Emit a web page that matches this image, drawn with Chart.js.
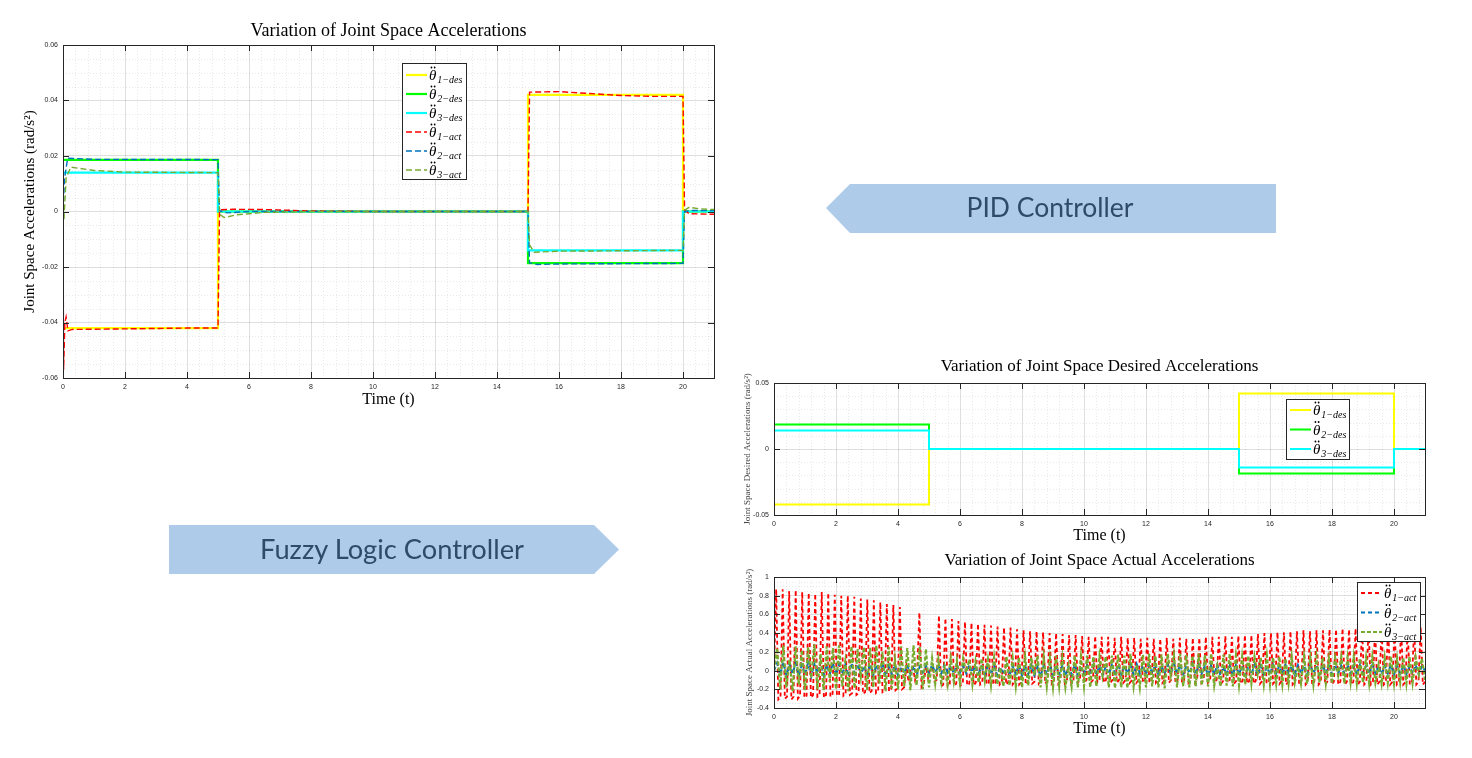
<!DOCTYPE html>
<html>
<head>
<meta charset="utf-8">
<title>Joint Space Accelerations</title>
<script src="https://cdn.jsdelivr.net/npm/chart.js@4.4.1/dist/chart.umd.min.js"></script>
<style>
	html, body { margin: 0; padding: 0; background: #fff; }
	#page { position: relative; width: 1472px; height: 758px; overflow: hidden; }
	.box { position: absolute; }
	svg { position: absolute; left: 0; top: 0; pointer-events: none; }
</style>
</head>
<body>
<div id="page">
	<div class="box" style="left:0;top:0;width:730px;height:420px"><canvas id="fuzzyChart"></canvas></div>
	<div class="box" style="left:720px;top:348px;width:752px;height:198px"><canvas id="desiredChart"></canvas></div>
	<div class="box" style="left:720px;top:546px;width:752px;height:212px"><canvas id="actualChart"></canvas></div>

	<svg width="1472" height="758">
		<polygon points="826,208 850,184 1276,184 1276,233 850,233" fill="#aecbe9"/>
		<text x="1050" y="216.5" text-anchor="middle" font-family="Lato, 'Open Sans', sans-serif" font-size="27" fill="#2f4b6a" textLength="167" lengthAdjust="spacingAndGlyphs">PID Controller</text>
		<polygon points="169,525 594,525 619,549.5 594,574 169,574" fill="#aecbe9"/>
		<text x="392" y="559" text-anchor="middle" font-family="Lato, 'Open Sans', sans-serif" font-size="27" fill="#2f4b6a" textLength="264" lengthAdjust="spacingAndGlyphs">Fuzzy Logic Controller</text>
	</svg>
</div>

<script>
// desired joint accelerations (step profile, same for both controllers)
const desTime   = [0, 5, 5, 15, 15, 20, 20, 21];
const theta1Des = [-0.042, -0.042, 0, 0, 0.042, 0.042, 0, 0];
const theta2Des = [0.0186, 0.0186, 0, 0, -0.0186, -0.0186, 0, 0];
const theta3Des = [0.014, 0.014, 0, 0, -0.014, -0.014, 0, 0];

// fuzzy controller, actual accelerations
const fz1Time = [0, 0.02, 0.06, 0.1, 0.16, 0.3, 2, 4, 5, 5.05, 5.5, 6.5, 8, 10, 15, 15.05, 16, 17, 18, 19, 20, 20.05, 20.2, 21];
const fz1Act  = [0, -0.057, -0.04, -0.038, -0.043, -0.0425, -0.0423, -0.042, -0.042, 0.0006, 0.0008, 0.0007, 0.0002, 0, 0, 0.043, 0.0432, 0.0425, 0.0418, 0.0415, 0.0415, 0.0005, -0.0008, -0.001];
const fz2Time = [0, 0.05, 0.15, 1, 5, 5.05, 5.3, 6, 15, 15.05, 15.3, 16, 20, 20.05, 20.3, 21];
const fz2Act  = [0, 0.012, 0.0192, 0.0188, 0.0187, 0.0003, -0.0005, 0, 0, -0.0185, -0.0191, -0.0189, -0.0187, 0, 0.0004, 0.0003];
const fz3Time = [0, 0.03, 0.1, 0.25, 1, 2, 5, 5.05, 5.2, 5.6, 6.5, 8, 15, 15.05, 15.2, 16, 20, 20.05, 20.2, 20.5, 21];
const fz3Act  = [0, -0.003, 0.012, 0.016, 0.0148, 0.0142, 0.014, -0.001, -0.0022, -0.0012, -0.0003, 0, 0, -0.012, -0.0147, -0.0143, -0.014, 0.0005, 0.0015, 0.001, 0.0007];

// PID controller, actual accelerations
// joint 1 sampled every 0.07 s, joints 2 and 3 every 0.1 s (0 .. 21 s)
const pid1Step = 0.07;
const pid1Act = [
	0.00,
	0.87, -0.31, -0.29, 0.87, -0.30, -0.28, 0.85, -0.31, -0.28, 0.86, -0.30, -0.27, 0.84, -0.29, -0.27, 0.83, -0.29, -0.26, 0.82, -0.28, -0.26, 0.84, -0.29, -0.26, 0.83, -0.28, -0.25, 0.81, -0.27, -0.25,
	0.80, -0.27, -0.25, 0.80, -0.26, -0.24, 0.79, -0.26, -0.24, 0.77, -0.25, -0.23, 0.76, -0.24, -0.22, 0.75, -0.24, -0.22, 0.73, -0.23, -0.21, 0.71, -0.22, -0.20, 0.70, -0.21, -0.19, 0.68, -0.20, -0.18,
	0.05, -0.12, 0.02, 0.04, -0.10, 0.01, 0.62, -0.18, -0.15, 0.05, -0.08, 0.02, 0.03, -0.12, -0.10, 0.59, -0.17, -0.15, 0.56, -0.17, -0.15, 0.55, -0.16, -0.14, 0.53, -0.16, -0.14, 0.52, -0.16, -0.14,
	0.51, -0.16, -0.13, 0.50, -0.15, -0.13, 0.49, -0.15, -0.13, 0.48, -0.15, -0.13, 0.47, -0.15, -0.12, 0.46, -0.15, -0.12, 0.46, -0.15, -0.12, 0.44, -0.15, -0.12, 0.43, -0.15, -0.12, 0.42, -0.14, -0.12,
	0.42, -0.14, -0.11, 0.41, -0.14, -0.11, 0.40, -0.14, -0.11, 0.40, -0.14, -0.11, 0.39, -0.14, -0.11, 0.38, -0.14, -0.11, 0.38, -0.13, -0.10, 0.37, -0.13, -0.10, 0.36, -0.13, -0.10, 0.37, -0.13, -0.10,
	0.36, -0.13, -0.10, 0.36, -0.13, -0.10, 0.35, -0.13, -0.10, 0.36, -0.13, -0.10, 0.35, -0.13, -0.10, 0.35, -0.13, -0.10, 0.34, -0.13, -0.10, 0.35, -0.13, -0.10, 0.34, -0.13, -0.10, 0.34, -0.13, -0.10,
	0.35, -0.13, -0.10, 0.34, -0.13, -0.10, 0.35, -0.13, -0.10, 0.34, -0.13, -0.10, 0.35, -0.13, -0.10, 0.35, -0.13, -0.10, 0.36, -0.13, -0.10, 0.36, -0.13, -0.10, 0.36, -0.14, -0.11, 0.37, -0.13, -0.10,
	0.36, -0.14, -0.11, 0.37, -0.14, -0.11, 0.38, -0.14, -0.11, 0.38, -0.14, -0.11, 0.39, -0.14, -0.11, 0.40, -0.14, -0.11, 0.40, -0.14, -0.11, 0.41, -0.14, -0.11, 0.41, -0.15, -0.12, 0.42, -0.15, -0.12,
	0.42, -0.15, -0.12, 0.43, -0.15, -0.12, 0.42, -0.15, -0.12, 0.43, -0.15, -0.12, 0.43, -0.15, -0.12, 0.44, -0.15, -0.12, 0.44, -0.15, -0.12, 0.45, -0.15, -0.12, 0.44, -0.15, -0.12, 0.45, -0.15, -0.12,
	0.46, -0.15, -0.12, 0.45, -0.15, -0.12, 0.46, -0.15, -0.12, 0.46, -0.15, -0.12, 0.47, -0.15, -0.12, 0.46, -0.15, -0.12, 0.47, -0.15, -0.12, 0.46, -0.15, -0.12, 0.47, -0.15, -0.12, 0.47, -0.15, -0.12
];
const pidStep = 0.1;
const pid2Act = [
	0.00, 0.08, -0.04, 0.09, -0.05, 0.07, -0.03, 0.08, -0.05, 0.06,
	-0.04, 0.08, -0.06, 0.07, -0.03, 0.09, -0.05, 0.06, -0.04, 0.08,
	-0.05, 0.07, -0.04, 0.06, -0.06, 0.08, -0.03, 0.07, -0.05, 0.05,
	-0.04, 0.07, -0.05, 0.06, -0.03, 0.08, -0.06, 0.05, -0.04, 0.06,
	-0.05, 0.04, -0.03, 0.06, -0.04, 0.05, -0.05, 0.04, -0.02, 0.05,
	-0.03, 0.06, -0.02, 0.05, -0.03, 0.06, -0.02, 0.05, -0.03, 0.06,
	-0.02, 0.05, -0.03, 0.06, -0.02, 0.05, -0.03, 0.04, -0.04, 0.05,
	-0.04, 0.05, -0.05, 0.04, -0.04, 0.06, -0.05, 0.05, -0.04, 0.06,
	-0.05, 0.05, -0.04, 0.06, -0.05, 0.04, -0.06, 0.05, -0.04, 0.05,
	-0.05, 0.06, -0.04, 0.05, -0.05, 0.04, -0.04, 0.06, -0.05, 0.05,
	-0.04, 0.05, -0.05, 0.06, -0.04, 0.05, -0.05, 0.04, -0.04, 0.06,
	-0.03, 0.07, -0.04, 0.05, -0.03, 0.06, -0.04, 0.07, -0.03, 0.05,
	-0.04, 0.06, -0.03, 0.07, -0.04, 0.05, -0.03, 0.06, -0.04, 0.07,
	-0.03, 0.06, -0.04, 0.05, -0.03, 0.07, -0.04, 0.06, -0.03, 0.05,
	-0.05, 0.05, -0.04, 0.06, -0.05, 0.04, -0.04, 0.05, -0.05, 0.06,
	-0.04, 0.05, -0.05, 0.04, -0.04, 0.06, -0.05, 0.05, -0.04, 0.04,
	-0.04, 0.06, -0.03, 0.05, -0.04, 0.06, -0.03, 0.05, -0.04, 0.06,
	-0.03, 0.05, -0.04, 0.06, -0.03, 0.05, -0.04, 0.06, -0.03, 0.05,
	-0.04, 0.06, -0.03, 0.05, -0.04, 0.06, -0.03, 0.05, -0.04, 0.06,
	-0.03, 0.05, -0.04, 0.06, -0.03, 0.05, -0.04, 0.05, -0.03, 0.06,
	-0.04, 0.05, -0.03, 0.06, -0.04, 0.05, -0.03, 0.06, -0.04, 0.05,
	0.00
];
const pid3Act = [
	0.00, 0.24, -0.20, 0.27, -0.18, 0.12, -0.22, 0.26, -0.15, 0.22,
	-0.21, 0.25, -0.08, 0.28, -0.20, 0.18, -0.21, 0.26, -0.12, 0.24,
	-0.20, 0.27, -0.17, 0.10, -0.22, 0.26, -0.19, 0.23, -0.06, 0.25,
	-0.21, 0.24, -0.18, 0.27, -0.14, 0.20, -0.22, 0.25, -0.19, 0.12,
	-0.20, 0.26, -0.17, 0.24, -0.21, 0.27, -0.16, 0.25, -0.20, 0.23,
	-0.18, 0.13, -0.14, 0.12, -0.13, 0.04, -0.15, 0.13, -0.12, 0.11,
	-0.14, 0.13, -0.02, 0.12, -0.15, 0.10, -0.13, 0.13, -0.11, 0.12,
	-0.16, 0.14, -0.15, 0.03, -0.17, 0.15, -0.16, 0.13, -0.17, 0.14,
	-0.18, 0.15, -0.16, 0.14, -0.05, 0.16, -0.18, 0.15, -0.17, 0.13,
	-0.18, 0.16, -0.17, 0.14, -0.18, 0.05, -0.17, 0.16, -0.18, 0.15,
	-0.17, 0.16, -0.18, 0.15, -0.17, 0.16, -0.06, 0.15, -0.18, 0.16,
	-0.19, 0.17, -0.18, 0.16, -0.19, 0.18, -0.17, 0.06, -0.18, 0.17,
	-0.18, 0.18, -0.17, 0.16, -0.18, 0.17, -0.19, 0.18, -0.05, 0.17,
	-0.18, 0.18, -0.17, 0.17, -0.18, 0.16, -0.17, 0.18, -0.16, 0.17,
	-0.17, 0.18, -0.16, 0.05, -0.17, 0.17, -0.16, 0.18, -0.17, 0.16,
	-0.16, 0.15, -0.15, 0.16, -0.14, 0.15, -0.04, 0.14, -0.15, 0.16,
	-0.15, 0.14, -0.14, 0.15, -0.15, 0.13, -0.14, 0.15, -0.13, 0.04,
	-0.14, 0.15, -0.14, 0.14, -0.15, 0.15, -0.13, 0.14, -0.14, 0.13,
	-0.14, 0.14, -0.05, 0.15, -0.14, 0.14, -0.13, 0.15, -0.14, 0.13,
	-0.13, 0.14, -0.14, 0.15, -0.13, 0.06, -0.14, 0.14, -0.13, 0.15,
	-0.14, 0.13, -0.13, 0.14, -0.14, 0.15, -0.13, 0.14, -0.04, 0.13,
	-0.10
];

// tick labels
const timeTicks = [0, 2, 4, 6, 8, 10, 12, 14, 16, 18, 20];
const fuzzyTicks = [-0.06, -0.04, -0.02, 0, 0.02, 0.04, 0.06];
const desiredTicks = [-0.05, 0, 0.05];
const actualTicks = [-0.4, -0.2, 0, 0.2, 0.4, 0.6, 0.8, 1];

// colours (matlab defaults)
const yellow = '#ffff00';
const green = '#00ff00';
const cyan = '#00ffff';
const red = '#ff0000';
const blue = '#0072bd';
const olive = '#77ac30';

const FONT_SERIF = '"Liberation Serif", "Times New Roman", serif';
const FONT_SANS = '"Liberation Sans", Arial, sans-serif';
const AXIS_COLOR = '#262626';
const GRID_COLOR = 'rgba(38,38,38,0.15)';
const MINOR_COLOR = 'rgba(38,38,38,0.10)';

function pts(xs, ys) {
	return xs.map((x, i) => ({ x: x, y: ys[i] }));
}

function sampled(vals, step) {
	return vals.map((v, i) => ({ x: +(i * step).toFixed(2), y: v }));
}

// dotted minor grid (matlab "grid minor")
const minorGrid = {
	id: 'minorGrid',
	beforeDatasetsDraw(chart, args, o) {
		const { ctx, chartArea: a, scales: { x, y } } = chart;
		ctx.save();
		ctx.strokeStyle = MINOR_COLOR;
		ctx.lineWidth = 1;
		ctx.setLineDash([1, 2]);
		ctx.beginPath();
		let n = Math.round((x.max - x.min) / o.x);
		for (let i = 1; i < n; i++) {
			const v = x.min + i * o.x;
			if (x.ticks.some(t => Math.abs(t.value - v) < o.x / 10)) continue;
			const px = Math.round(x.getPixelForValue(v)) + 0.5;
			ctx.moveTo(px, a.top);
			ctx.lineTo(px, a.bottom);
		}
		n = Math.round((y.max - y.min) / o.y);
		for (let i = 1; i < n; i++) {
			const v = y.min + i * o.y;
			if (y.ticks.some(t => Math.abs(t.value - v) < o.y / 10)) continue;
			const py = Math.round(y.getPixelForValue(v)) + 0.5;
			ctx.moveTo(a.left, py);
			ctx.lineTo(a.right, py);
		}
		ctx.stroke();
		ctx.restore();
	}
};

// box with inward ticks on all four sides
const matlabBox = {
	id: 'matlabBox',
	afterDatasetsDraw(chart, args, o) {
		const { ctx, chartArea: a, scales: { x, y } } = chart;
		const len = o.len || 6;
		ctx.save();
		ctx.strokeStyle = AXIS_COLOR;
		ctx.lineWidth = 1;
		ctx.beginPath();
		x.ticks.forEach(t => {
			const px = Math.round(x.getPixelForValue(t.value)) + 0.5;
			ctx.moveTo(px, a.bottom); ctx.lineTo(px, a.bottom - len);
			ctx.moveTo(px, a.top); ctx.lineTo(px, a.top + len);
		});
		y.ticks.forEach(t => {
			const py = Math.round(y.getPixelForValue(t.value)) + 0.5;
			ctx.moveTo(a.left, py); ctx.lineTo(a.left + len, py);
			ctx.moveTo(a.right, py); ctx.lineTo(a.right - len, py);
		});
		ctx.stroke();
		ctx.strokeRect(Math.round(a.left) + 0.5, Math.round(a.top) + 0.5, Math.round(a.width), Math.round(a.height));
		ctx.restore();
	}
};

// legend with theta double-dot and subscripts
const texLegend = {
	id: 'texLegend',
	afterDraw(chart, args, o) {
		const { ctx, chartArea: a } = chart;
		const x0 = Math.round(a.left + o.x), y0 = Math.round(a.top + o.y);
		ctx.save();
		ctx.fillStyle = '#fff';
		ctx.fillRect(x0, y0, o.w, o.h);
		ctx.strokeStyle = AXIS_COLOR;
		ctx.lineWidth = 1;
		ctx.strokeRect(x0 + 0.5, y0 + 0.5, o.w, o.h);
		chart.data.datasets.forEach((ds, i) => {
			const cy = y0 + o.row0 + i * o.rowH;
			ctx.beginPath();
			ctx.setLineDash(ds.borderDash || []);
			ctx.strokeStyle = ds.borderColor;
			ctx.lineWidth = ds.borderWidth;
			ctx.moveTo(x0 + 4, cy);
			ctx.lineTo(x0 + 25, cy);
			ctx.stroke();
			ctx.setLineDash([]);
			ctx.fillStyle = '#000';
			ctx.textAlign = 'left';
			ctx.textBaseline = 'alphabetic';
			ctx.font = 'italic 15px ' + FONT_SERIF;
			const tx = x0 + 27;
			ctx.fillText('θ', tx, cy + 5);
			const w = ctx.measureText('θ').width;
			// the two dots of the double derivative
			ctx.beginPath();
			ctx.arc(tx + w * 0.55 - 1.6, cy - 7.5, 0.9, 0, Math.PI * 2);
			ctx.arc(tx + w * 0.55 + 1.6, cy - 7.5, 0.9, 0, Math.PI * 2);
			ctx.fill();
			ctx.font = 'italic 10px ' + FONT_SERIF;
			ctx.fillText(ds.sub, tx + w + 1, cy + 8);
		});
		ctx.restore();
	}
};

function timeAxis(title, o) {
	return {
		type: 'linear',
		min: 0,
		max: 21,
		afterBuildTicks: s => { s.ticks = timeTicks.map(v => ({ value: v })); },
		afterFit: s => { s.height = o.height; },
		grid: { color: GRID_COLOR, drawTicks: false },
		border: { display: false },
		ticks: { padding: 5, maxRotation: 0, autoSkip: false, color: AXIS_COLOR, font: { family: FONT_SANS, size: 7 }, callback: v => String(v) },
		title: { display: true, text: title, color: '#000', font: { family: FONT_SERIF, size: 16 }, padding: { top: 0, bottom: o.titlePad } }
	};
}

function valueAxis(ticks, min, max, title, o) {
	return {
		type: 'linear',
		min: min,
		max: max,
		afterBuildTicks: s => { s.ticks = ticks.map(v => ({ value: v })); },
		afterFit: s => { s.width = o.width; },
		grid: { color: GRID_COLOR, drawTicks: false },
		border: { display: false },
		ticks: { padding: 5, color: AXIS_COLOR, font: { family: FONT_SANS, size: 7 }, callback: v => String(v) },
		title: { display: true, text: title, color: o.titleColor || '#000', font: { family: FONT_SERIF, size: o.titleSize }, padding: { top: o.titlePad, bottom: 0 } }
	};
}

function buildChart(canvasId, c) {
	return new Chart(document.getElementById(canvasId), {
		type: 'line',
		data: { datasets: c.datasets },
		options: {
			responsive: true,
			maintainAspectRatio: false,
			animation: false,
			parsing: false,
			layout: { padding: c.padding },
			elements: { point: { radius: 0 }, line: { tension: 0, fill: false } },
			scales: { x: c.x, y: c.y },
			plugins: {
				legend: { display: false },
				tooltip: { enabled: false },
				title: {
					display: true,
					text: c.title,
					color: '#000',
					fullSize: false,
					font: { family: FONT_SERIF, size: c.titleSize, weight: 'normal' },
					padding: c.titlePad
				},
				minorGrid: c.minor,
				matlabBox: { len: 6 },
				texLegend: c.legend
			}
		},
		plugins: [minorGrid, matlabBox, texLegend]
	});
}

// fuzzy logic controller
buildChart('fuzzyChart', {
	title: 'Variation of Joint Space Accelerations',
	titleSize: 18,
	titlePad: { top: 20, bottom: 3.4 },
	padding: { left: 0, right: 16, top: 0, bottom: 0 },
	x: timeAxis('Time (t)', { height: 42, titlePad: 11 }),
	y: valueAxis(fuzzyTicks, -0.06, 0.06, 'Joint Space Accelerations (rad/s²)', { width: 63, titleSize: 15, titlePad: 21 }),
	minor: { x: 0.4, y: 0.005 },
	legend: { x: 339, y: 18, w: 64, h: 116, row0: 12, rowH: 19 },
	datasets: [
		{ label: 'θ̈ 1-des', sub: '1−des', data: pts(desTime, theta1Des), borderColor: yellow, borderWidth: 2.2, order: 6 },
		{ label: 'θ̈ 2-des', sub: '2−des', data: pts(desTime, theta2Des), borderColor: green, borderWidth: 2.2, order: 5 },
		{ label: 'θ̈ 3-des', sub: '3−des', data: pts(desTime, theta3Des), borderColor: cyan, borderWidth: 2.2, order: 4 },
		{ label: 'θ̈ 1-act', sub: '1−act', data: pts(fz1Time, fz1Act), borderColor: red, borderWidth: 1.4, borderDash: [6, 3], order: 3 },
		{ label: 'θ̈ 2-act', sub: '2−act', data: pts(fz2Time, fz2Act), borderColor: blue, borderWidth: 1.4, borderDash: [6, 3], order: 2 },
		{ label: 'θ̈ 3-act', sub: '3−act', data: pts(fz3Time, fz3Act), borderColor: olive, borderWidth: 1.4, borderDash: [6, 3], order: 1 }
	]
});

// pid controller, desired
buildChart('desiredChart', {
	title: 'Variation of Joint Space Desired Accelerations',
	titleSize: 17,
	titlePad: { top: 8.8, bottom: 5.8 },
	padding: { left: 0, right: 47, top: 0, bottom: 0 },
	x: timeAxis('Time (t)', { height: 31, titlePad: 0.4 }),
	y: valueAxis(desiredTicks, -0.05, 0.05, 'Joint Space Desired Accelerations (rad/s²)', { width: 54, titleSize: 9, titlePad: 22.6, titleColor: '#444' }),
	minor: { x: 0.4, y: 0.01 },
	legend: { x: 512, y: 16, w: 63, h: 60, row0: 11, rowH: 19.5 },
	datasets: [
		{ label: 'θ̈ 1-des', sub: '1−des', data: pts(desTime, theta1Des), borderColor: yellow, borderWidth: 2, order: 3 },
		{ label: 'θ̈ 2-des', sub: '2−des', data: pts(desTime, theta2Des), borderColor: green, borderWidth: 2, order: 2 },
		{ label: 'θ̈ 3-des', sub: '3−des', data: pts(desTime, theta3Des), borderColor: cyan, borderWidth: 2, order: 1 }
	]
});

// pid controller, actual
buildChart('actualChart', {
	title: 'Variation of Joint Space Actual Accelerations',
	titleSize: 17,
	titlePad: { top: 4.8, bottom: 5.8 },
	padding: { left: 0, right: 47, top: 0, bottom: 0 },
	x: timeAxis('Time (t)', { height: 50, titlePad: 19.4 }),
	y: valueAxis(actualTicks, -0.4, 1, 'Joint Space Actual Accelerations (rad/s²)', { width: 54, titleSize: 9, titlePad: 24.6, titleColor: '#444' }),
	minor: { x: 0.4, y: 0.05 },
	legend: { x: 583, y: 5, w: 63, h: 59, row0: 11, rowH: 19.5 },
	datasets: [
		{ label: 'θ̈ 1-act', sub: '1−act', data: sampled(pid1Act, pid1Step), borderColor: red, borderWidth: 1.8, borderDash: [4, 3], order: 3 },
		{ label: 'θ̈ 2-act', sub: '2−act', data: sampled(pid2Act, pidStep), borderColor: blue, borderWidth: 2, borderDash: [4, 3], order: 2 },
		{ label: 'θ̈ 3-act', sub: '3−act', data: sampled(pid3Act, pidStep), borderColor: olive, borderWidth: 2.2, borderDash: [4, 2], order: 1 }
	]
});
</script>
</body>
</html>
